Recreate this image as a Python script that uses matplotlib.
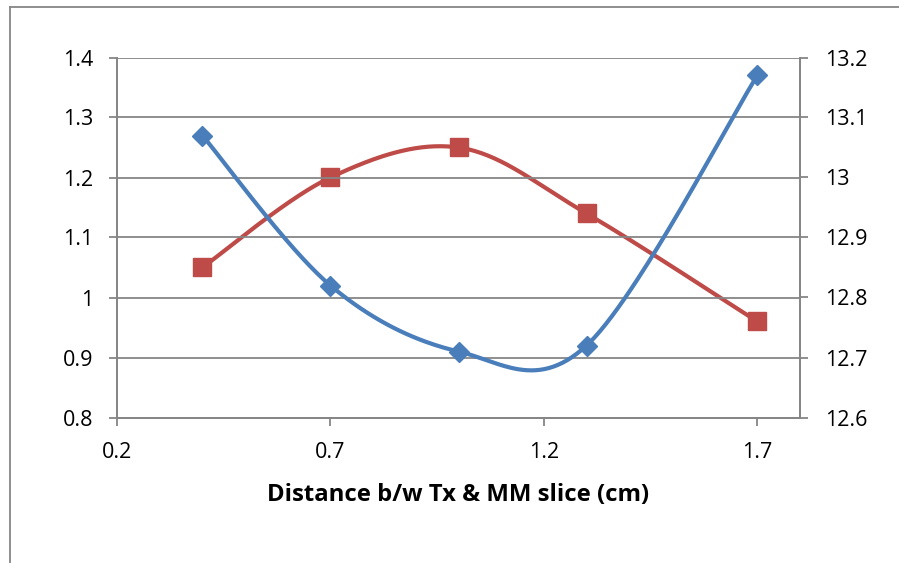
import numpy as np
import matplotlib
matplotlib.use("Agg")
import matplotlib.pyplot as plt
from matplotlib.lines import Line2D

# Data
distance = [0.4, 0.7, 1.0, 1.3, 1.7]
left_series = [1.27, 1.02, 0.91, 0.92, 1.37]      # left axis
right_series = [12.85, 13.00, 13.05, 12.94, 12.76]  # right axis

left_ticks = [0.8, 0.9, 1.0, 1.1, 1.2, 1.3, 1.4]
left_labels = ["0.8", "0.9", "1", "1.1", "1.2", "1.3", "1.4"]
right_ticks = [12.6, 12.7, 12.8, 12.9, 13.0, 13.1, 13.2]
right_labels = ["12.6", "12.7", "12.8", "12.9", "13", "13.1", "13.2"]
x_ticks = [0.2, 0.7, 1.2, 1.7]
x_labels = ["0.2", "0.7", "1.2", "1.7"]
x_title = "Distance b/w Tx & MM slice (cm)"

BLUE = "#4A7EBB"
RED = "#BE4B48"
GRID = "#868686"
FONT = "Open Sans"
TICK_SIZE = 15.5


def smooth(xs, ys, n=60):
    """Piecewise cubic Bezier through the points (Catmull-Rom style tangents)."""
    p = np.column_stack([xs, ys]).astype(float)
    m = len(p)
    out = []
    for i in range(m - 1):
        p0 = p[max(i - 1, 0)]
        p1 = p[i]
        p2 = p[i + 1]
        p3 = p[min(i + 2, m - 1)]
        c1 = p1 + (p2 - p0) / 6.0
        c2 = p2 - (p3 - p1) / 6.0
        t = np.linspace(0, 1, n)[:, None]
        seg = ((1 - t) ** 3) * p1 + 3 * ((1 - t) ** 2) * t * c1 \
            + 3 * (1 - t) * t ** 2 * c2 + t ** 3 * p2
        out.append(seg if i == 0 else seg[1:])
    s = np.vstack(out)
    return s[:, 0], s[:, 1]


fig = plt.figure(figsize=(8.99, 5.63), dpi=100)
ax = fig.add_axes([117 / 899, 1 - 417.5 / 563, (800 - 117) / 899, (417.5 - 57.5) / 563])
ax2 = ax.twinx()

# left axis on top so the blue curve sits over the red one
ax.set_zorder(ax2.get_zorder() + 1)
ax.patch.set_visible(False)

bx, by = smooth(distance, left_series)
ax.plot(bx, by, color=BLUE, lw=3.0, solid_capstyle="round", zorder=3)
ax.plot(distance, left_series, linestyle="none", marker="D", ms=10,
        color=BLUE, mec=BLUE, zorder=4)

rx, ry = smooth(distance, right_series)
ax2.plot(rx, ry, color=RED, lw=3.0, solid_capstyle="round", zorder=3)
ax2.plot(distance, right_series, linestyle="none", marker="s", ms=13.5,
         color=RED, mec=RED, zorder=4)

ax.set_xlim(0.2, 1.8)
ax.set_ylim(0.8, 1.4)
ax2.set_ylim(12.6, 13.2)

ax.set_xticks(x_ticks)
ax.set_xticklabels(x_labels)
ax.set_yticks(left_ticks)
ax.set_yticklabels(left_labels)
ax2.set_yticks(right_ticks)
ax2.set_yticklabels(right_labels)

ax.grid(axis="y", color=GRID, lw=1.3)
ax.set_axisbelow(True)

for a in (ax, ax2):
    for side, sp in a.spines.items():
        sp.set_color(GRID)
        sp.set_linewidth(1.3)
    a.spines["top"].set_visible(False)

ax.tick_params(axis="both", direction="out", length=6, width=1.3, color=GRID,
               labelsize=TICK_SIZE, labelcolor="black")
ax.tick_params(axis="y", pad=11)
ax.tick_params(axis="x", pad=12)
ax2.tick_params(axis="y", direction="out", length=6, width=1.3, color=GRID,
                labelsize=TICK_SIZE, labelcolor="black", pad=12)

for lab in ax.get_xticklabels() + ax.get_yticklabels() + ax2.get_yticklabels():
    lab.set_fontfamily(FONT)

ax.set_xlabel(x_title, fontsize=17.2, fontweight="bold", fontfamily=FONT, labelpad=14)

# outer chart frame
fig.add_artist(Line2D([10 / 899, 10 / 899], [0, 1 - 7 / 563], color=GRID, lw=1.3,
                      transform=fig.transFigure))
fig.add_artist(Line2D([10 / 899, 1], [1 - 7 / 563, 1 - 7 / 563], color=GRID, lw=1.3,
                      transform=fig.transFigure))

fig.savefig("out.png", dpi=100)
